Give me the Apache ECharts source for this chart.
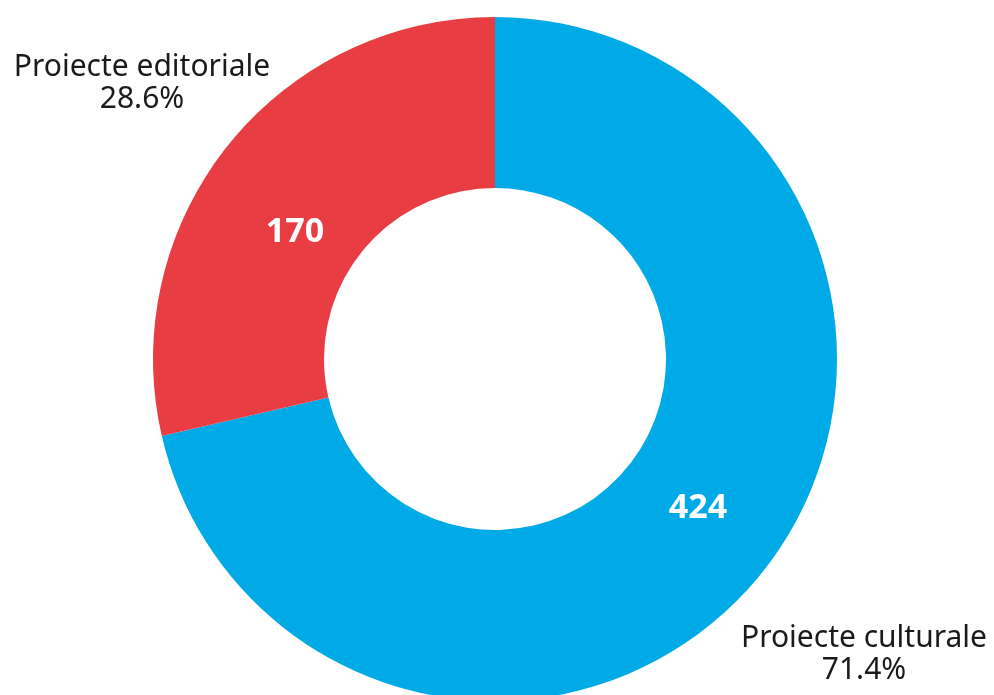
<!DOCTYPE html>
<html>
<head>
<meta charset="utf-8">
<script src="https://cdn.jsdelivr.net/npm/echarts@6/dist/echarts.min.js"></script>
<style>
  html, body { margin: 0; padding: 0; background: #ffffff; }
  #chart { width: 994px; height: 695px; }
</style>
</head>
<body>
<div id="chart"></div>
<script>
// Project counts by type
const categories = ['Proiecte culturale', 'Proiecte editoriale'];
const counts = [424, 170];
const colors = ['#00AAE7', '#E83D43'];

const total = counts.reduce((a, b) => a + b, 0);
const pieData = categories.map((name, i) => ({
  name: name,
  value: counts[i],
  itemStyle: { color: colors[i] }
}));

// Placement of the count labels (inside the ring) and the name labels (outside)
const valuePos = [[698, 508], [295, 232]];
const namePos = [[864, 654], [142, 83]];

const center = [495, 359];
const radius = [171, 342];
const font = '"Noto Sans", Lato, sans-serif';

const chart = echarts.init(document.getElementById('chart'));
chart.setOption({
  animation: false,
  backgroundColor: '#ffffff',
  series: [
    {
      type: 'pie',
      center: center,
      radius: radius,
      startAngle: 90,
      clockwise: true,
      silent: true,
      data: pieData,
      itemStyle: { borderColor: '#ffffff', borderWidth: 0 },
      label: {
        show: true,
        position: 'inside',
        formatter: p => String(p.value),
        color: '#ffffff',
        fontFamily: font,
        fontWeight: 'bold',
        fontSize: 34,
        overflow: 'none'
      },
      labelLine: { show: false },
      labelLayout: p => ({
        x: valuePos[p.dataIndex][0],
        y: valuePos[p.dataIndex][1],
        align: 'center',
        verticalAlign: 'middle'
      })
    },
    {
      type: 'pie',
      center: center,
      radius: radius,
      startAngle: 90,
      clockwise: true,
      silent: true,
      data: pieData.map(d => ({ name: d.name, value: d.value })),
      itemStyle: { color: 'rgba(0,0,0,0)' },
      label: {
        show: true,
        position: 'outside',
        formatter: p => p.name + '\n' + (p.value / total * 100).toFixed(1) + '%',
        color: '#1a1a1a',
        fontFamily: font,
        fontSize: 30,
        lineHeight: 32,
        align: 'center',
        overflow: 'none',
        width: 340
      },
      labelLine: { show: false },
      labelLayout: p => ({
        x: namePos[p.dataIndex][0],
        y: namePos[p.dataIndex][1],
        align: 'center',
        verticalAlign: 'middle'
      })
    }
  ]
});
</script>
</body>
</html>
